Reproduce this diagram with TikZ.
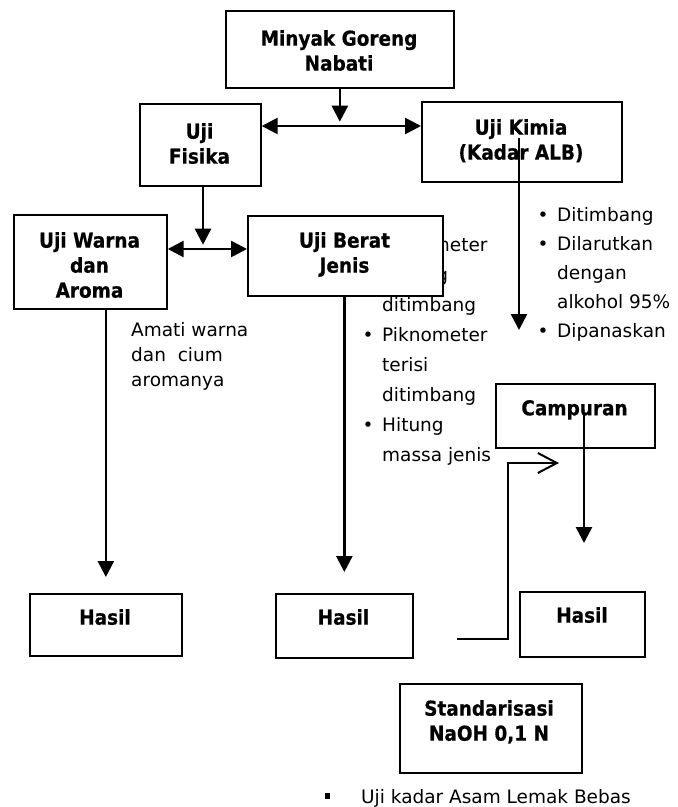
\documentclass[tikz,border=0pt]{standalone}
\usepackage{fontspec}
\setmainfont{DejaVu Sans}[BoldFeatures={FakeStretch=0.9,FakeBold=0.6}]
\usetikzlibrary{arrows.meta}
\begin{document}
\begin{tikzpicture}[x=1pt,y=-1pt,
  box/.style={draw, line width=1.7pt, fill=white, inner sep=0pt, anchor=north west},
  btxt/.style={font=\fontsize{20.5}{25}\selectfont\bfseries, align=center, inner sep=0pt, anchor=north},
  rlist/.style={font=\fontsize{18.5}{#1}\selectfont, align=left, inner sep=0pt, anchor=north west},
  arr/.style={line width=2.6pt, -{Triangle[length=16pt,width=16pt]}},
  darr/.style={line width=2.6pt, {Triangle[length=16pt,width=16pt]}-{Triangle[length=16pt,width=16pt]}},
  barb/.style={line width=2.4pt, -{Straight Barb[length=19pt,width=20pt,line width=2pt]}},
]
\useasboundingbox (0,0) rectangle (678,807);

% lists of steps (drawn first, boxes cover them)
\node[rlist=30pt] (beratlist) at (362.5,237.5) {%
\makebox[19.5pt][l]{•}Piknometer\\
\hspace*{19.5pt}kosong\\
\hspace*{19.5pt}ditimbang\\
\makebox[19.5pt][l]{•}Piknometer\\
\hspace*{19.5pt}terisi\\
\hspace*{19.5pt}ditimbang\\
\makebox[19.5pt][l]{•}Hitung\\
\hspace*{19.5pt}massa jenis};

\node[rlist=29pt] (kimialist) at (537.5,207.5) {%
\makebox[19.5pt][l]{•}Ditimbang\\
\makebox[19.5pt][l]{•}Dilarutkan\\
\hspace*{19.5pt}dengan\\
\hspace*{19.5pt}alkohol 95\%\\
\makebox[19.5pt][l]{•}Dipanaskan};

\node[rlist=25pt] (amati) at (131,322.5) {Amati warna\\dan\ \ cium\\aromanya};

\node[fill, minimum size=5.5pt, inner sep=0pt] (sq) at (327.5,796) {};
\node[font=\fontsize{18.5}{25}\selectfont, inner sep=0pt, anchor=base west] (ujikadar) at (361,803) {Uji kadar Asam Lemak Bebas};

% boxes
\node[box, minimum width=228pt, minimum height=77pt] (minyak) at (225,10) {};
\node[box, minimum width=121pt, minimum height=82pt] (fisika) at (139,103) {};
\node[box, minimum width=200pt, minimum height=80pt] (kimia) at (421,101) {};
\node[box, minimum width=153pt, minimum height=94pt] (warna) at (13,214) {};
\node[box, minimum width=195pt, minimum height=80pt] (berat) at (247,215) {};
\node[box, minimum width=159pt, minimum height=64pt] (campuran) at (495,383) {};
\node[box, minimum width=152pt, minimum height=62pt] (hasil1) at (29,593) {};
\node[box, minimum width=137pt, minimum height=64pt] (hasil2) at (275,593) {};
\node[box, minimum width=125pt, minimum height=65pt] (hasil3) at (519,591) {};
\node[box, minimum width=182pt, minimum height=89pt] (standar) at (399,683) {};

% box texts
\node[btxt] (minyakT) at (339,29.9) {Minyak Goreng\\Nabati};
\node[btxt] (fisikaT) at (199.5,122.9) {Uji\\Fisika};
\node[btxt] (kimiaT) at (521,118.9) {Uji Kimia\\(Kadar ALB)};
\node[btxt] (warnaT) at (89.5,231.9) {Uji Warna\\dan\\Aroma};
\node[btxt] (beratT) at (344.5,231.9) {Uji Berat\\Jenis};
\node[btxt] (campuranT) at (574.5,399.9) {Campuran};
\node[btxt] (hasil1T) at (105,608.9) {Hasil};
\node[btxt] (hasil2T) at (343.5,608.9) {Hasil};
\node[btxt] (hasil3T) at (582,606.9) {Hasil};
\node[btxt] (standarT) at (489,699.9) {Standarisasi\\NaOH 0,1 N};

% connectors
\coordinate (j1) at (339,126);
\coordinate (j2) at (203,249);
\coordinate (k0) at (519,138);
\coordinate (c0) at (584,413);
\coordinate (h0) at (457,639);
\coordinate (hc) at (508,463);
\coordinate (h1) at (559,463);

\draw[arr] (minyak.south) -- ++(0,33);
\draw[darr] (fisika.east |- j1) -- (kimia.west |- j1);
\draw[arr] (fisika.south -| j2) -- ++(0,58);
\draw[darr] (warna.east |- j2) -- (berat.west |- j2);
\draw[arr, shorten >=16pt] (hasil1.north |- warna.south) -- (hasil1.north);
\draw[arr, shorten >=21pt] (hasil2.north |- berat.south) -- (hasil2.north);
\draw[arr] (k0) -- ++(0,192);
\draw[arr] (c0) -- ++(0,130);
\draw[barb] (h0) -| (hc) -- (h1);
\end{tikzpicture}
\end{document}
